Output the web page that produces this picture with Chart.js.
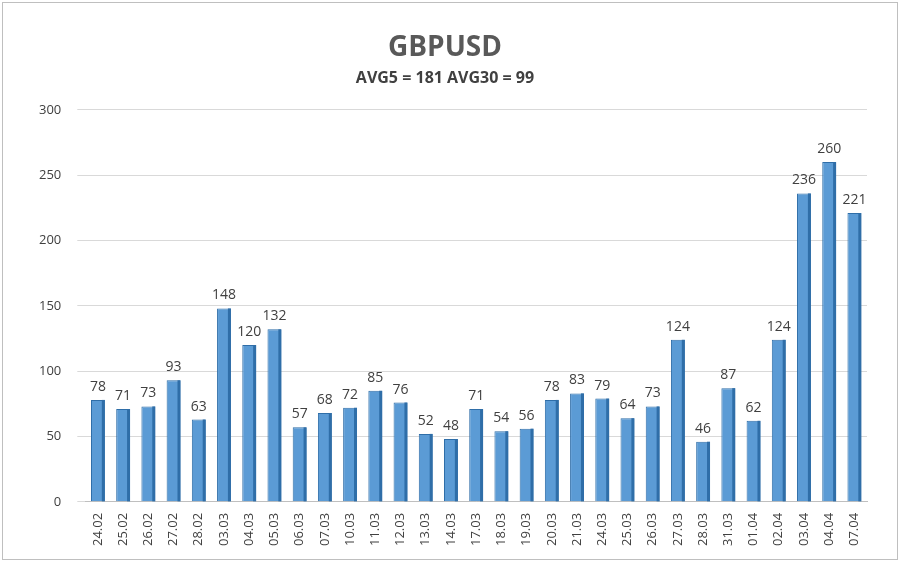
<!DOCTYPE html>
<html>
<head>
<meta charset="utf-8">
<script src="https://cdn.jsdelivr.net/npm/chart.js@4"></script>
<style>
body { margin: 0; background: #fff; }
#wrap { position: absolute; left: 2px; top: 2px; width: 894px; height: 556px; border: 1px solid #bfbfbf; }
</style>
</head>
<body>
<div id="wrap"><canvas id="myChart"></canvas></div>
<script>
const labels = ['24.02','25.02','26.02','27.02','28.02','03.03','04.03','05.03','06.03','07.03','10.03','11.03','12.03','13.03','14.03','17.03','18.03','19.03','20.03','21.03','24.03','25.03','26.03','27.03','28.03','31.03','01.04','02.04','03.04','04.04','07.04'];
const values = [78,71,73,93,63,148,120,132,57,68,72,85,76,52,48,71,54,56,78,83,79,64,73,124,46,87,62,124,236,260,221];
const yTicks = [0,50,100,150,200,250,300];

// value labels above bars + darker side face for the 3D look
const barExtras = {
    id: 'barExtras',
    afterDatasetsDraw(chart) {
        const ctx = chart.ctx;
        const meta = chart.getDatasetMeta(0);
        ctx.save();
        meta.data.forEach((bar, i) => {
            const w = bar.width;
            ctx.fillStyle = '#2f6ea8';
            ctx.fillRect(bar.x + w / 2 - 3, bar.y, 3, bar.base - bar.y);
            ctx.fillStyle = '#404040';
            ctx.font = '14px "Open Sans", sans-serif';
            ctx.textAlign = 'center';
            ctx.textBaseline = 'bottom';
            ctx.fillText(values[i], bar.x, bar.y - 6);
        });
        ctx.restore();
    }
};

new Chart(document.getElementById('myChart').getContext('2d'), {
    type: 'bar',
    plugins: [barExtras],
    data: {
        labels: labels,
        datasets: [{
            data: values,
            backgroundColor: (c) => {
                const bar = c.chart.getDatasetMeta(0).data[c.dataIndex];
                if (!bar || !isFinite(bar.x) || !isFinite(bar.width)) return '#5b9bd5';
                const g = c.chart.ctx.createLinearGradient(bar.x - bar.width / 2, 0, bar.x + bar.width / 2, 0);
                g.addColorStop(0, '#4a8bcc');
                g.addColorStop(0.4, '#8cbcea');
                g.addColorStop(1, '#4f8fd0');
                return g;
            },
            borderColor: '#2f6ea8',
            borderWidth: 1,
            barPercentage: 0.55,
            categoryPercentage: 1.0
        }]
    },
    options: {
        responsive: true,
        maintainAspectRatio: false,
        animation: false,
        layout: { padding: { left: 20, right: 30, top: 10, bottom: 10 } },
        plugins: {
            legend: { display: false },
            tooltip: { enabled: false },
            title: {
                display: true,
                text: 'GBPUSD',
                color: '#595959',
                font: { family: '"Open Sans", sans-serif', size: 28, weight: 'bold' },
                padding: { top: 18, bottom: 4 }
            },
            subtitle: {
                display: true,
                text: 'AVG5 = 181 AVG30 = 99',
                color: '#404040',
                font: { family: '"Open Sans", sans-serif', size: 16, weight: 'bold' },
                padding: { bottom: 22 }
            }
        },
        scales: {
            x: {
                grid: { display: false },
                border: { color: '#bfbfbf' },
                ticks: {
                    color: '#404040',
                    font: { family: '"Open Sans", sans-serif', size: 13 },
                    maxRotation: 90, minRotation: 90
                }
            },
            y: {
                min: 0, max: 300,
                afterBuildTicks: (axis) => { axis.ticks = yTicks.map(v => ({ value: v })); },
                grid: { color: '#d9d9d9' },
                border: { display: false },
                ticks: {
                    color: '#404040',
                    font: { family: '"Open Sans", sans-serif', size: 13 },
                    padding: 16
                }
            }
        }
    }
});
</script>
</body>
</html>
